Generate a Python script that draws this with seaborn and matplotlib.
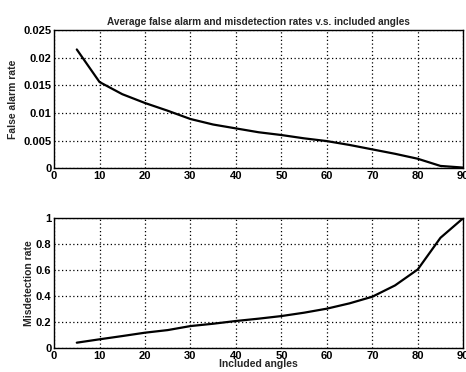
import matplotlib
matplotlib.use("Agg")
import matplotlib.pyplot as plt
import seaborn as sns
import pandas as pd

angles = [5, 10, 15, 20, 25, 30, 35, 40, 45, 50, 55, 60, 65, 70, 75, 80, 85, 90]
false_alarm = [0.0215, 0.0156, 0.0134, 0.0118, 0.0104, 0.0089, 0.0079, 0.0072, 0.0065,
               0.0060, 0.0054, 0.0049, 0.0042, 0.0034, 0.0026, 0.0017, 0.0004, 0.0001]
misdetection = [0.041, 0.067, 0.092, 0.118, 0.138, 0.169, 0.187, 0.208, 0.226,
                0.246, 0.272, 0.303, 0.344, 0.395, 0.482, 0.605, 0.849, 1.0]

x_ticks = [0, 10, 20, 30, 40, 50, 60, 70, 80, 90]
fa_ticks = [0, 0.005, 0.01, 0.015, 0.02, 0.025]
fa_labels = ["0", "0.005", "0.01", "0.015", "0.02", "0.025"]
md_ticks = [0, 0.2, 0.4, 0.6, 0.8, 1.0]
md_labels = ["0", "0.2", "0.4", "0.6", "0.8", "1"]

df = pd.DataFrame({"angle": angles, "fa": false_alarm, "md": misdetection})

sns.set_style("white")
plt.rcParams["font.family"] = ["Liberation Sans", "DejaVu Sans"]

fig = plt.figure(figsize=(4.66, 3.72), dpi=100)
ax1 = fig.add_axes([0.116, 0.548, 0.878, 0.371])
ax2 = fig.add_axes([0.116, 0.0645, 0.878, 0.349])

sns.lineplot(data=df, x="angle", y="fa", ax=ax1, color="black", linewidth=1.6)
sns.lineplot(data=df, x="angle", y="md", ax=ax2, color="black", linewidth=1.6)

for ax, yt, yl in [(ax1, fa_ticks, fa_labels), (ax2, md_ticks, md_labels)]:
    ax.set_xlim(0, 90)
    ax.set_ylim(yt[0], yt[-1])
    ax.set_xticks(x_ticks)
    ax.set_xticklabels([str(t) for t in x_ticks], fontsize=8, fontweight="bold")
    ax.set_yticks(yt)
    ax.set_yticklabels(yl, fontsize=8, fontweight="bold")
    ax.grid(True, color="black", linestyle=(0, (1, 2)), linewidth=0.9)
    for s in ax.spines.values():
        s.set_visible(True)
        s.set_color("black")
        s.set_linewidth(1.0)
    ax.tick_params(direction="in", length=3, width=0.8, pad=2, colors="black")

ax1.set_xlabel("")
ax1.set_ylabel("False alarm rate", fontsize=7.5, fontweight="bold", labelpad=4)
ax1.set_title("Average false alarm and misdetection rates v.s. included angles",
              fontsize=7.2, fontweight="bold", pad=4)
ax2.set_ylabel("Misdetection rate", fontsize=7.5, fontweight="bold", labelpad=1)
ax2.set_xlabel("Included angles", fontsize=7.5, fontweight="bold", labelpad=-1)

fig.savefig("out.png", dpi=100)
